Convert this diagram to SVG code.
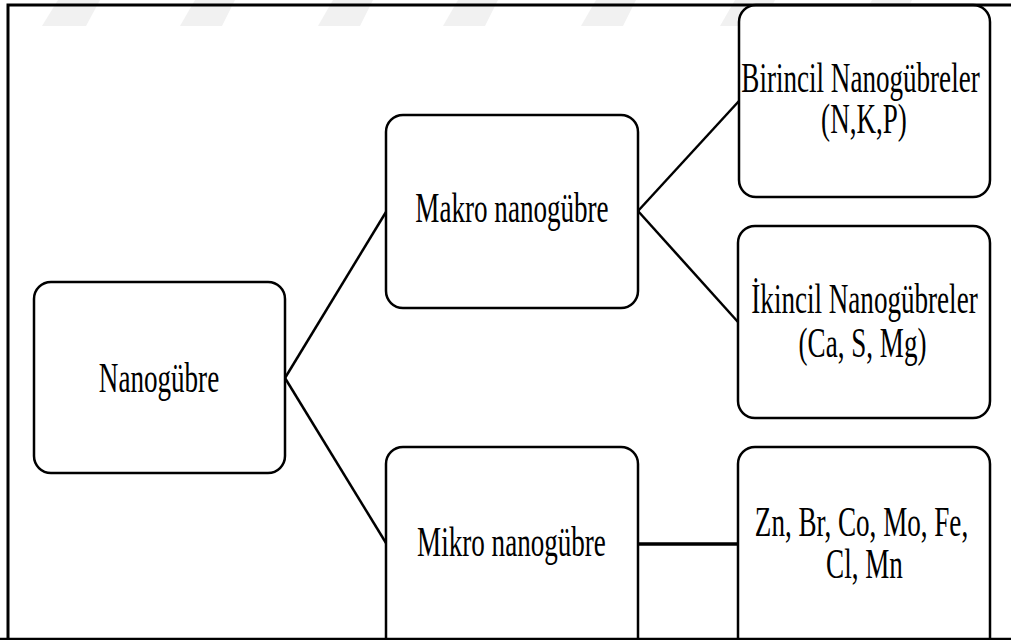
<svg xmlns="http://www.w3.org/2000/svg" width="1011" height="640" viewBox="0 0 1011 640">
<style>
.box{fill:#fff;stroke:#000;stroke-width:2.5}
.lbl{font-family:"Liberation Serif","Times New Roman",serif;font-size:42px;fill:#000;text-anchor:middle}
.con{stroke:#000;stroke-width:2.5;fill:none}
.wm{fill:#f1f1f1}
</style>
<rect width="1011" height="640" fill="#fff"/>
<g id="watermark">
<polygon class="wm" points="58,0 100,0 86,26 42,26"/>
<polygon class="wm" points="195,0 235,0 222,26 180,26"/>
<polygon class="wm" points="333,0 373,0 360,26 318,26"/>
<polygon class="wm" points="458,0 498,0 485,26 443,26"/>
<polygon class="wm" points="596,0 636,0 623,26 581,26"/>
<polygon class="wm" points="735,0 775,0 762,26 720,26"/>
<polygon class="wm" points="872,0 912,0 899,26 857,26"/>
</g>
<g id="connectors">
<path class="con" d="M285,378 L386,212"/>
<path class="con" d="M285,378 L386,543"/>
<path class="con" d="M638,211 L739,101"/>
<path class="con" d="M638,211 L738,322"/>
<path class="con" d="M638,544 L738,544" style="stroke-width:3.5"/>
</g>
<g id="n0">
<rect class="box" x="34" y="282" width="251" height="191" rx="17"/>
<text class="lbl" transform="matrix(0.645 0 0 1 159 0)" x="0" y="392">Nanogübre</text>
</g>
<g id="n1">
<rect class="box" x="386" y="115" width="252" height="193" rx="17"/>
<text class="lbl" transform="matrix(0.645 0 0 1 512 0)" x="0" y="222">Makro nanogübre</text>
</g>
<g id="n2">
<rect class="box" x="386" y="447" width="252" height="210" rx="17"/>
<text class="lbl" transform="matrix(0.645 0 0 1 511.5 0)" x="0" y="556">Mikro nanogübre</text>
</g>
<g id="n3">
<rect class="box" x="739" y="5" width="251" height="192" rx="17"/>
<text class="lbl" transform="matrix(0.645 0 0 1 860.5 0)" x="0" y="92">Birincil Nanogübreler</text>
<text class="lbl" transform="matrix(0.645 0 0 1 864 0)" x="0" y="133">(N,K,P)</text>
</g>
<g id="n4">
<rect class="box" x="738" y="226" width="252" height="192" rx="17"/>
<text class="lbl" transform="matrix(0.645 0 0 1 864.5 0)" x="0" y="313">İkincil Nanogübreler</text>
<text class="lbl" transform="matrix(0.645 0 0 1 862.5 0)" x="0" y="357">(Ca, S, Mg)</text>
</g>
<g id="n5">
<rect class="box" x="738" y="447" width="252" height="210" rx="17"/>
<text class="lbl" transform="matrix(0.645 0 0 1 861.5 0)" x="0" y="536">Zn, Br, Co, Mo, Fe,</text>
<text class="lbl" transform="matrix(0.645 0 0 1 864.5 0)" x="0" y="578">Cl, Mn</text>
</g>
<g id="frame">
<path d="M8,640 L8,5 L1011,5" fill="none" stroke="#000" stroke-width="3"/>
<path d="M0,639 L1011,639" fill="none" stroke="#000" stroke-width="2.5"/>
</g>
</svg>
